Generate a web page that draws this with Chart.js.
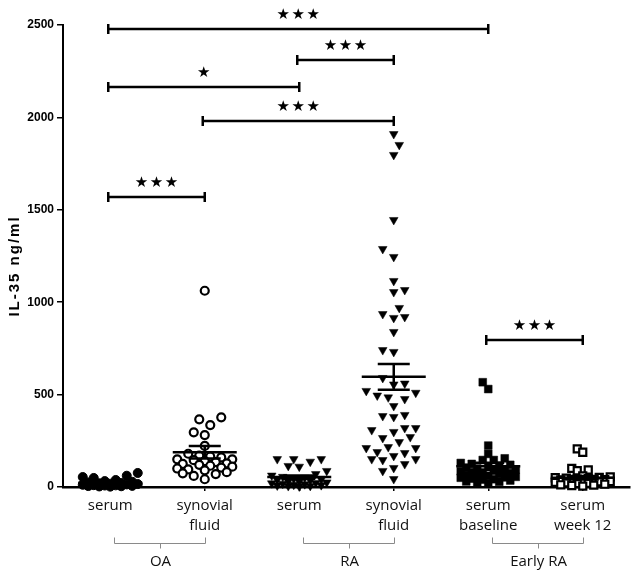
<!DOCTYPE html>
<html><head><meta charset="utf-8">
<script src="https://cdn.jsdelivr.net/npm/chart.js@4.4.0/dist/chart.umd.min.js"></script>
<style>html,body{margin:0;padding:0;background:#fff}#wrap{width:644px;height:574px}</style>
</head><body><div id="wrap"><canvas id="c" width="644" height="574"></canvas></div>
<script>
// ---- data ----
const categories = [["serum"],["synovial","fluid"],["serum"],["synovial","fluid"],["serum","baseline"],["serum","week 12"]];
const groupLabels = ["OA","RA","Early RA"];
const groupFrom = [0,2,4];
const groupTo = [1,3,5];
const yTicks = [0,500,1000,1500,2000,2500];
const yTitle = "IL-35 ng/ml";

const oaSerum = [76,61,54,49,38,32,28,25,22,20,18,16,14,12,10,9,8,6,5,4,3,2];
const oaSynovial = [1062,377,366,335,296,281,222,180,170,165,160,150,150,145,140,135,128,125,120,115,110,105,100,95,90,80,74,70,60,42];
const raSerum = [151,151,151,137,114,110,87,70,62,55,50,45,40,38,35,30,28,25,22,20,18,15,12,10,8,6,5,3];
const raSynovial = [1910,1851,1797,1445,1288,1245,1115,1066,1055,969,936,920,915,839,741,731,590,560,555,520,510,495,485,476,438,390,384,379,319,319,308,298,270,265,243,216,211,211,189,184,168,151,151,146,124,103,87,43];
const earlyBaseline = [567,530,224,179,155,146,146,130,125,120,115,110,105,100,95,90,88,85,80,78,75,70,65,62,60,55,52,50,45,42,40,35,30,28,25,20];
const earlyWeek12 = [206,188,101,92,88,60,55,52,50,48,45,42,40,38,36,34,32,30,28,25,22,20,18,15,12,10,8,5];

// significance comparisons
const compFrom = [0,2,0,1,0,4];
const compTo = [4,3,2,3,1,5];
const compLevel = [2478,2308,2163,1982,1568,795];
const compStars = [3,3,1,3,3,3];

// ---- layout helpers ----
const PX_Y = 462/2500, PX_X = 567/6;
function swarm(vals, diam, maxOff, step){
  const order = vals.map((v,i)=>i).sort((a,b)=>vals[a]-vals[b]);
  const placed = []; const offs = new Array(vals.length);
  let flip = 1;
  for (const i of order){
    const y = vals[i]*PX_Y;
    let best = 0, bestScore = -1, found = false;
    for (let k=0; k*step<=maxOff && !found; k++){
      const signs = k===0 ? [0] : [flip,-flip];
      for (const s of signs){
        const x = s*k*step;
        let md = Infinity;
        for (const p of placed){ const d = Math.hypot(p.x-x, p.y-y); if (d<md) md=d; }
        if (md >= diam){ best = x; found = true; break; }
        if (md > bestScore){ bestScore = md; best = x; }
      }
    }
    flip = -flip;
    offs[i] = best; placed.push({x:best, y});
  }
  return offs.map(o=>o/PX_X);
}
const groups = [oaSerum, oaSynovial, raSerum, raSynovial, earlyBaseline, earlyWeek12];
const styles = [
  {pointStyle:'circle', radius:4.5, bg:'#000', bw:1, rot:0, diam:9},
  {pointStyle:'circle', radius:4, bg:'#fff', bw:2.2, rot:0, diam:10},
  {pointStyle:'triangle', radius:5, bg:'#000', bw:0.5, rot:180, diam:9},
  {pointStyle:'triangle', radius:5, bg:'#000', bw:0.5, rot:180, diam:10},
  {pointStyle:'rect', radius:5.5, bg:'#000', bw:0.5, rot:0, diam:7},
  {pointStyle:'rect', radius:5, bg:'#fff', bw:2.2, rot:0, diam:6},
];
const datasets = groups.map((vals,g)=>{
  const st = styles[g];
  const offs = swarm(vals, st.diam, 32, 5.5);
  return {
    data: vals.map((v,i)=>({x:g+offs[i], y:v})),
    pointStyle: st.pointStyle, pointRadius: st.radius, pointRotation: st.rot,
    backgroundColor: st.bg, borderColor:'#000', borderWidth: st.bw, clip:false
  };
});
function stats(v){
  const n=v.length, m=v.reduce((a,b)=>a+b,0)/n;
  const sd=Math.sqrt(v.reduce((a,b)=>a+(b-m)*(b-m),0)/(n-1));
  return {m, sem: sd/Math.sqrt(n)};
}

const overlay = {
  id:'overlay',
  afterDatasetsDraw(chart){
    const ctx = chart.ctx, xs = chart.scales.x, ys = chart.scales.y;
    ctx.save();
    ctx.strokeStyle='#000'; ctx.lineWidth=2.5; ctx.lineCap='butt';
    // mean +/- SEM
    groups.forEach((v,g)=>{
      const s = stats(v), cx = xs.getPixelForValue(g);
      const ym = ys.getPixelForValue(s.m), yt = ys.getPixelForValue(s.m+s.sem), yb = ys.getPixelForValue(Math.max(0,s.m-s.sem));
      ctx.beginPath();
      ctx.moveTo(cx-32, ym); ctx.lineTo(cx+32, ym);
      ctx.moveTo(cx-16, yt); ctx.lineTo(cx+16, yt);
      ctx.moveTo(cx-16, yb); ctx.lineTo(cx+16, yb);
      ctx.moveTo(cx, yt); ctx.lineTo(cx, yb);
      ctx.stroke();
    });
    // significance brackets
    ctx.fillStyle='#000';
    ctx.font='15px "DejaVu Sans"'; ctx.textAlign='center'; ctx.textBaseline='middle';
    compFrom.forEach((a,i)=>{
      const x1 = xs.getPixelForValue(a)-2, x2 = xs.getPixelForValue(compTo[i]);
      const y = Math.round(ys.getPixelForValue(compLevel[i]));
      ctx.beginPath();
      ctx.moveTo(x1,y); ctx.lineTo(x1,y); ctx.lineTo(x2,y);
      ctx.moveTo(x1,y-5); ctx.lineTo(x1,y+5);
      ctx.moveTo(x2,y-5); ctx.lineTo(x2,y+5);
      ctx.stroke();
      const mid=(x1+x2)/2, n=compStars[i];
      for(let k=0;k<n;k++){ ctx.fillText('★', mid+(k-(n-1)/2)*15, y-14); }
    });
    // group brackets
    ctx.strokeStyle='#8a8a8a'; ctx.lineWidth=1;
    ctx.font='15px "Open Sans"'; ctx.fillStyle='#111';
    groupFrom.forEach((a,i)=>{
      const x1 = Math.round(xs.getPixelForValue(a))+4.5, x2 = Math.round(xs.getPixelForValue(groupTo[i]))+0.5;
      const y = 543.5, mid = Math.round((x1+x2)/2)+0.5;
      ctx.beginPath();
      ctx.moveTo(x1,y-6); ctx.lineTo(x1,y); ctx.lineTo(x2,y); ctx.lineTo(x2,y-6);
      ctx.moveTo(mid,y); ctx.lineTo(mid,y+5);
      ctx.stroke();
      ctx.fillText(groupLabels[i], mid, 562);
    });
    // y-axis title
    ctx.save();
    ctx.translate(15, (ys.top+ys.bottom)/2 + 10);
    ctx.rotate(-Math.PI/2);
    ctx.font='bold 15px "Liberation Sans"'; ctx.fillStyle='#000';
    if ('letterSpacing' in ctx) ctx.letterSpacing='2px';
    ctx.fillText(yTitle, 0, 0);
    ctx.restore();
    ctx.restore();
  }
};

new Chart(document.getElementById('c'), {
  type:'scatter',
  data:{datasets},
  options:{
    responsive:false, animation:false,
    layout:{padding:{top:25,right:14,left:0,bottom:0}},
    plugins:{legend:{display:false}, tooltip:{enabled:false}},
    scales:{
      x:{type:'linear', min:-0.5, max:5.5,
        afterBuildTicks:s=>{ s.ticks = categories.map((c,i)=>({value:i})); },
        ticks:{callback:(v)=>categories[v], font:{family:'"Open Sans"', size:15, lineHeight:1.33}, color:'#111', padding:5, maxRotation:0, autoSkip:false},
        grid:{drawOnChartArea:false, color:'#000', tickLength:4, lineWidth:1.5},
        border:{color:'#000', width:2.5},
        afterFit:s=>{ s.height = 87; }
      },
      y:{min:0, max:2500,
        afterBuildTicks:s=>{ s.ticks = yTicks.map(v=>({value:v})); },
        ticks:{callback:(v)=>String(v), font:{family:'"Liberation Sans"', size:12, weight:'bold'}, color:'#000', padding:3},
        grid:{drawOnChartArea:false, color:'#000', tickLength:6, lineWidth:1.5},
        border:{color:'#000', width:2},
        afterFit:s=>{ s.width = 63; }
      }
    }
  },
  plugins:[overlay]
});
</script>
</body></html>
